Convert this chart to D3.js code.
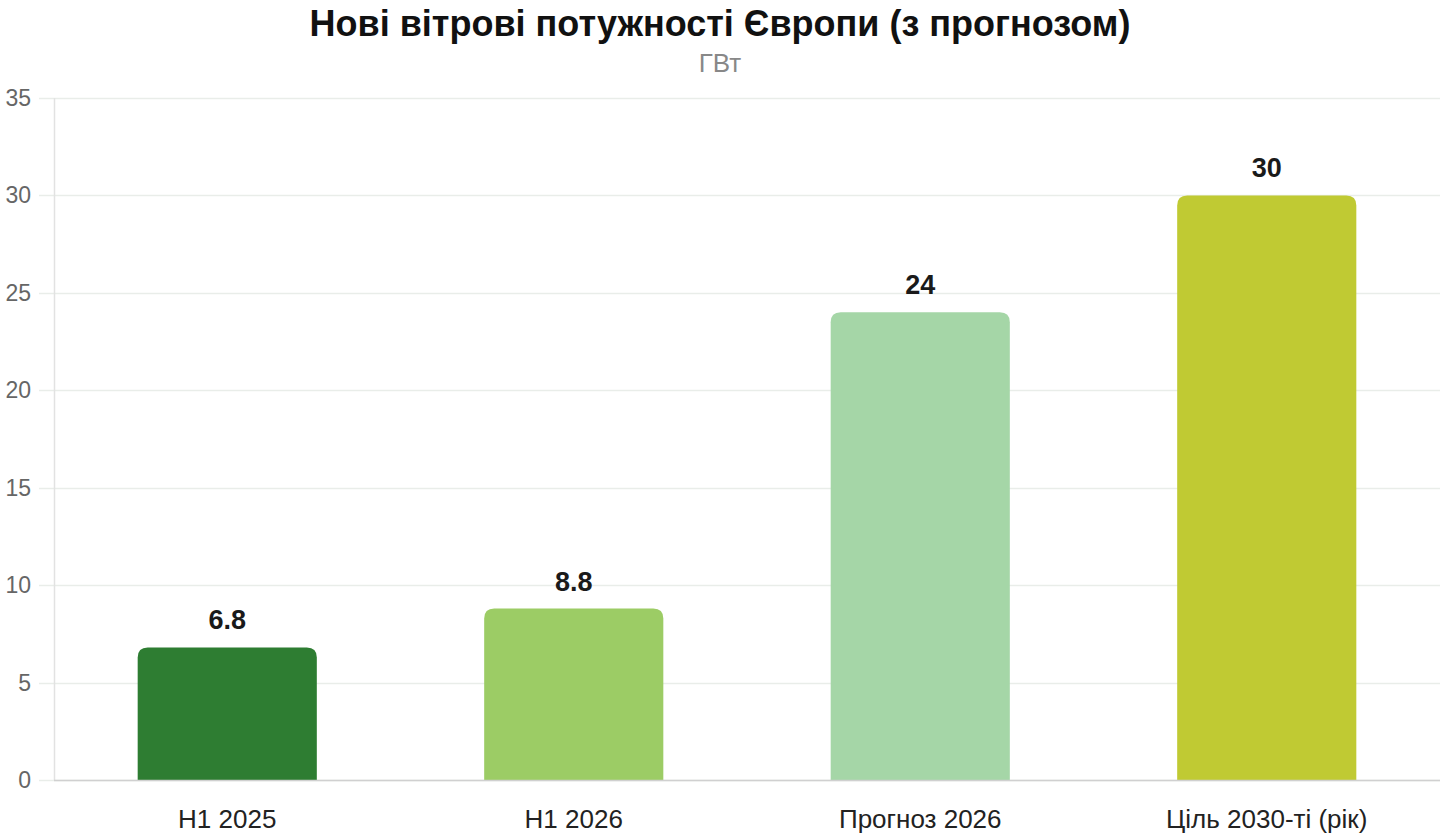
<!DOCTYPE html>
<meta charset="utf-8">
<style>
body { margin: 0; background: #fff; }
svg { font-family: "Liberation Sans", Arial, sans-serif; display: block; }
.title { font-size: 36px; font-weight: bold; fill: #111; text-anchor: middle; }
.subtitle { font-size: 26px; fill: #888; text-anchor: middle; }
.tick-label { font-size: 23px; fill: #666; text-anchor: end; }
.cat-label { font-size: 26px; fill: #222; text-anchor: middle; }
.value-label { font-size: 27px; font-weight: bold; fill: #1a1a1a; text-anchor: middle; }
</style>
<svg width="1440" height="840"></svg>
<script src="https://cdn.jsdelivr.net/npm/d3@7"></script>
<script>

var categories = ["H1 2025", "H1 2026", "Прогноз 2026", "Ціль 2030-ті (рік)"];
var values = [6.8, 8.8, 24, 30];
var colors = ["#2e7d32", "#9ccc65", "#a5d6a7", "#c0ca33"];
var yTicks = [0, 5, 10, 15, 20, 25, 30, 35];

var svg = d3.select("svg");

var plotLeft = 54, plotRight = 1440, plotTop = 98, plotBottom = 780;

var x = d3.scaleBand()
    .domain(categories)
    .range([plotLeft, plotRight])
    .paddingInner(0.483)
    .paddingOuter(0.2415);

var y = d3.scaleLinear()
    .domain([0, 35])
    .range([plotBottom, plotTop]);

svg.append("text")
    .attr("class", "title")
    .attr("x", 720)
    .attr("y", 36)
    .text("Нові вітрові потужності Європи (з прогнозом)");

svg.append("text")
    .attr("class", "subtitle")
    .attr("x", 720)
    .attr("y", 72)
    .text("ГВт");

// grid
svg.append("g").selectAll("line")
    .data(yTicks)
  .enter().append("line")
    .attr("x1", 39)
    .attr("x2", plotRight)
    .attr("y1", function(d) { return Math.round(y(d)) + 0.5; })
    .attr("y2", function(d) { return Math.round(y(d)) + 0.5; })
    .attr("stroke", "#e9ede9")
    .attr("stroke-width", 1.5);

svg.append("g").selectAll("text")
    .data(yTicks)
  .enter().append("text")
    .attr("class", "tick-label")
    .attr("x", 31)
    .attr("y", function(d) { return y(d); })
    .attr("dy", "0.35em")
    .text(function(d) { return d; });

svg.append("line")
    .attr("x1", plotLeft + 0.5).attr("x2", plotLeft + 0.5)
    .attr("y1", plotTop).attr("y2", plotBottom)
    .attr("stroke", "#e2e2e2")
    .attr("stroke-width", 1.5);

// bars with rounded tops
var r = 10;
function barPath(x0, w, y0, y1) {
  return "M" + x0 + "," + y1 +
    "V" + (y0 + r) +
    "Q" + x0 + "," + y0 + " " + (x0 + r) + "," + y0 +
    "H" + (x0 + w - r) +
    "Q" + (x0 + w) + "," + y0 + " " + (x0 + w) + "," + (y0 + r) +
    "V" + y1 + "Z";
}

var data = categories.map(function(c, i) { return {cat: c, value: values[i], color: colors[i]}; });

svg.append("g").selectAll("path")
    .data(data)
  .enter().append("path")
    .attr("d", function(d) { return barPath(x(d.cat), x.bandwidth(), y(d.value), y(0)); })
    .attr("fill", function(d) { return d.color; });

svg.append("line")
    .attr("x1", plotLeft).attr("x2", plotRight)
    .attr("y1", plotBottom + 0.5).attr("y2", plotBottom + 0.5)
    .attr("stroke", "#d0d0d0")
    .attr("stroke-width", 1.5);

svg.append("g").selectAll("text")
    .data(data)
  .enter().append("text")
    .attr("class", "value-label")
    .attr("x", function(d) { return x(d.cat) + x.bandwidth() / 2; })
    .attr("y", function(d) { return y(d.value) - 18; })
    .text(function(d) { return d.value; });

svg.append("g").selectAll("text")
    .data(data)
  .enter().append("text")
    .attr("class", "cat-label")
    .attr("x", function(d) { return x(d.cat) + x.bandwidth() / 2; })
    .attr("y", 828)
    .text(function(d) { return d.cat; });

</script>
